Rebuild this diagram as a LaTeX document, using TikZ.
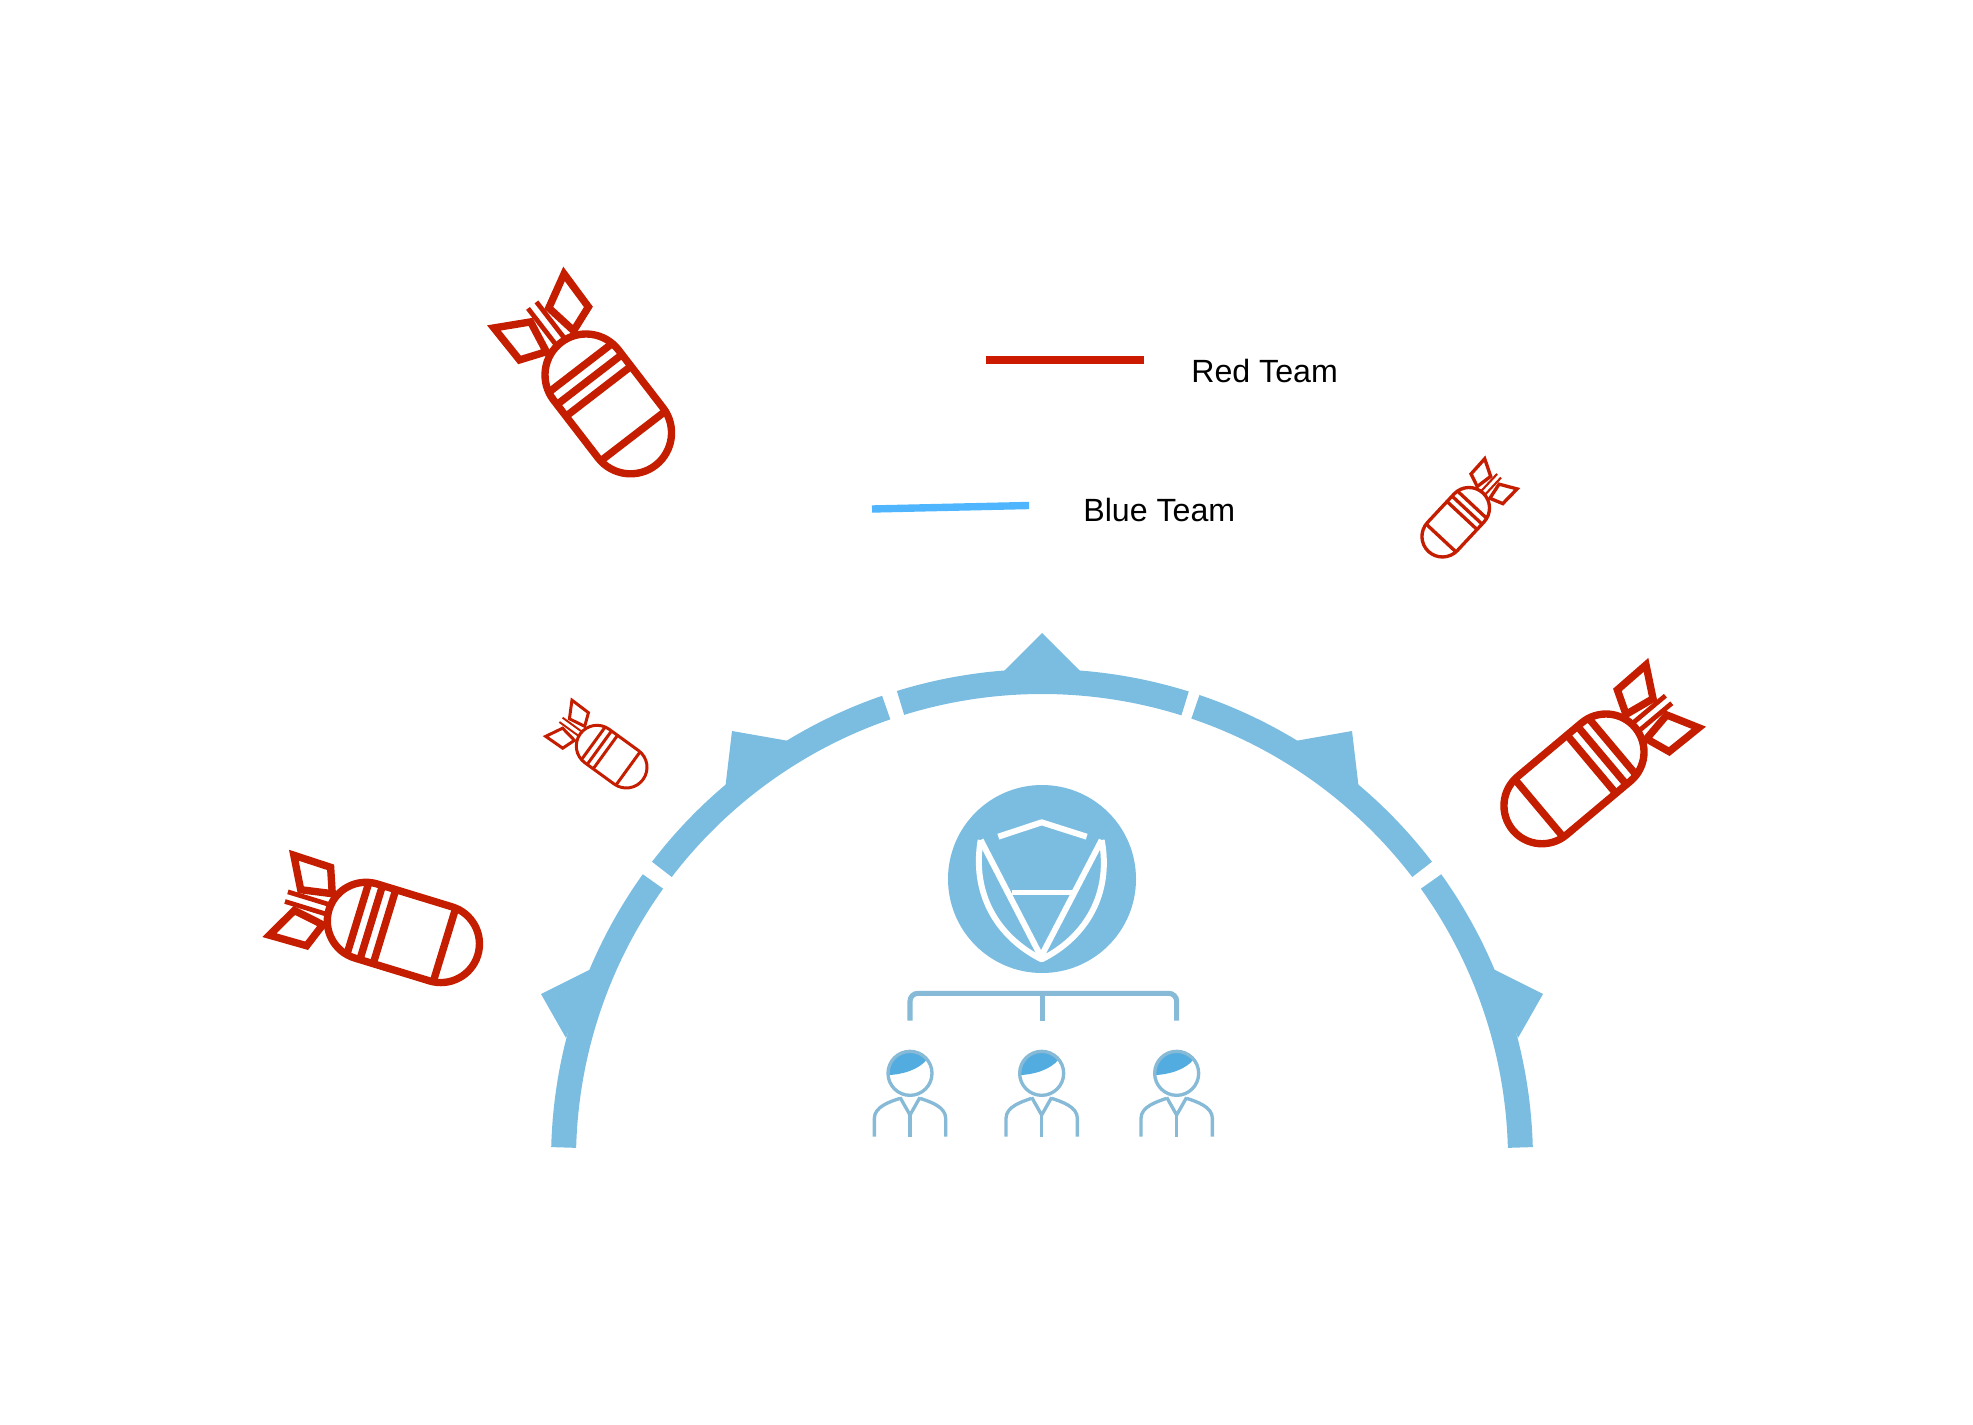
\documentclass[tikz,border=0pt]{standalone}
\usepackage{fontspec}
\setmainfont{Liberation Sans}
\usepackage{tikz}
\definecolor{bombred}{HTML}{C41D00}
\definecolor{legendred}{HTML}{CC1A00}
\definecolor{legendblue}{HTML}{4FB5FF}
\definecolor{ringblue}{HTML}{7BBDE0}
\definecolor{staffline}{HTML}{86BAD6}
\definecolor{hairblue}{HTML}{52ACDF}
\tikzset{
 bomb/.pic={
  \draw[bombred,line join=miter] (0,1)--(#1,1) arc[start angle=90,end angle=-90,radius=1]
   --(0,-1) arc[start angle=270,end angle=90,radius=1]--cycle;
  \foreach \u in {-.22,.14,.5}
   \draw[bombred] (\u,-.97)--(\u,.97);
  \draw[bombred] (#1+.1,-.99)--(#1+.1,.99);
  \draw[bombred,line join=miter] (-2.28,1.08)--(-1.28,1.06)--(-1.04,.42)--(-1.85,.28)--cycle;
  \draw[bombred,line join=miter] (-2.28,-1.08)--(-1.28,-1.06)--(-1.04,-.42)--(-1.85,-.28)--cycle;
  \draw[bombred,line width=.8*\pgflinewidth] (-2.15,.13)--(-.95,.13);
  \draw[bombred,line width=.8*\pgflinewidth] (-2.15,-.13)--(-.95,-.13);
 },
 staff/.pic={
  \fill[hairblue] (-68,5) arc[start angle=176,end angle=320,radius=68]
   .. controls (30,-12) and (-25,5) .. cycle;
  \draw[staffline] (0,0) circle[radius=66];
  \draw[staffline] (-107,190)--(-107,135) .. controls (-107,100) and (-60,85) .. (-30,75);
  \draw[staffline] (107,190)--(107,135) .. controls (107,100) and (60,85) .. (30,75);
  \draw[staffline] (-30,72)--(0,125)--(30,72);
  \draw[staffline] (0,125)--(0,190);
 }
}
\begin{document}
\begin{tikzpicture}[x=0.02cm,y=-0.02cm,
 legendline/.style={line width=4.2pt},
 legendtext/.style={anchor=base west,inner sep=0pt,font=\fontsize{18.3}{20}\selectfont},
 ringseg/.style={ringblue,line width=14.2pt},
 spike/.style={fill=ringblue},
 shieldline/.style={white,line width=3.4pt,line join=round},
 bracket/.style={staffline,line width=2.9pt,rounded corners=4.5pt}]
\useasboundingbox (0,0) rectangle (1973,1425);
% bombs
\pic[line width=4.2pt,rotate=-52.4,scale=41] at (586,375) {bomb=1.78};
\pic[line width=1.9pt,rotate=-133,scale=20.5] at (1469,508) {bomb=1.9};
\pic[line width=4.2pt,rotate=-140,scale=38] at (1606,752) {bomb=2.2};
\pic[line width=4.2pt,rotate=-17,scale=38.7] at (366,921) {bomb=2.02};
\pic[line width=1.7pt,rotate=-36,scale=20.7] at (597,746) {bomb=1.75};
% legend
\coordinate (redstart) at (986,360);
\coordinate (redend) at (1144,360);
\coordinate (bluestart) at (872,509);
\coordinate (blueend) at (1029,505.5);
\draw[legendline,legendred] (redstart)--(redend);
\draw[legendline,legendblue] (bluestart)--(blueend);
\node[legendtext] (redlabel) at (1191,383) {Red Team};
\node[legendtext] (bluelabel) at (1083,521) {Blue Team};
% ring
\begin{scope}[shift={(1042,1160)}]
\foreach \a/\b in {181.5/215.6,217.4/251,252.8/287.4,288.7/322.6,324.4/358.5}
 \draw[ringseg] (\a:478.5) arc[start angle=\a,end angle=\b,radius=478.5];
\end{scope}
\fill[spike] (1042,633)--(1080,671)--(1004,671)--cycle;
\fill[spike] (541,994)--(591,969)--(566,1038)--cycle;
\fill[spike] (732,731)--(789,741)--(725,790)--cycle;
\fill[spike] (1352,731)--(1295,741)--(1359,790)--cycle;
\fill[spike] (1543,994)--(1493,969)--(1518,1038)--cycle;
% logo
\node[circle,fill=ringblue,minimum size=188*0.02cm,inner sep=0pt] (logo) at (1042,879) {};
\begin{scope}[shift={(840,760)},scale=1/3]
\draw[shieldline] (475,230)--(605,187)--(740,230);
\draw[shieldline] (422,240)--(603,590)--(785,240);
\draw[shieldline] (422,240) .. controls (395,400) and (470,530) .. (605,598)
 .. controls (740,530) and (815,400) .. (785,240);
\draw[shieldline,line width=3pt] (515,397)--(695,397);
\coordinate (branchleft) at (210,782);
\coordinate (branchmid) at (608,700);
\coordinate (branchmidend) at (608,782);
\coordinate (branchright) at (1010,782);
\draw[bracket] (branchleft)--(210,700)--(1010,700)--(branchright);
\draw[bracket] (branchmid)--(branchmidend);
\pic[line width=1.9pt,scale=1/3] (staffa) at (210,940) {staff};
\pic[line width=1.9pt,scale=1/3] (staffb) at (605,940) {staff};
\pic[line width=1.9pt,scale=1/3] (staffc) at (1010,940) {staff};
\end{scope}
\end{tikzpicture}
\end{document}
